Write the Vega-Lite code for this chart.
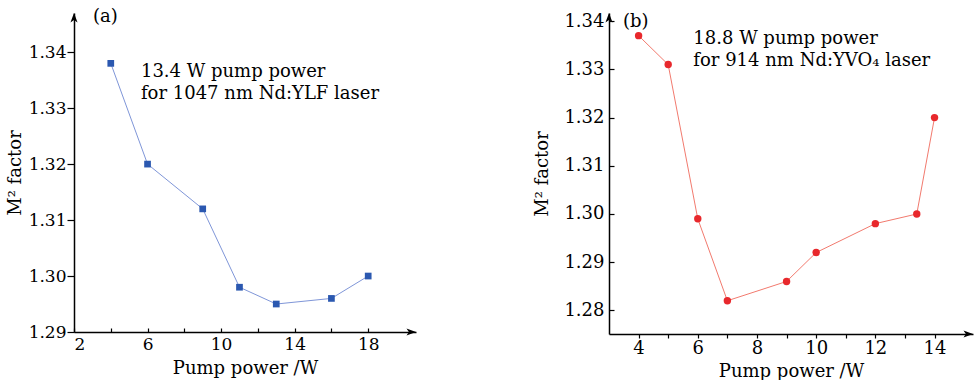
{
  "$schema": "https://vega.github.io/schema/vega-lite/v6.json",
  "background": "white",
  "padding": {"left": 6, "top": 8, "right": 2, "bottom": 0},
  "spacing": 117,
  "datasets": {
    "a": [
      {"power": 4, "m2": 1.338},
      {"power": 6, "m2": 1.320},
      {"power": 9, "m2": 1.312},
      {"power": 11, "m2": 1.298},
      {"power": 13, "m2": 1.295},
      {"power": 16, "m2": 1.296},
      {"power": 18, "m2": 1.300}
    ],
    "b": [
      {"power": 4, "m2": 1.337},
      {"power": 5, "m2": 1.331},
      {"power": 6, "m2": 1.299},
      {"power": 7, "m2": 1.282},
      {"power": 9, "m2": 1.286},
      {"power": 10, "m2": 1.292},
      {"power": 12, "m2": 1.298},
      {"power": 13.4, "m2": 1.300},
      {"power": 14, "m2": 1.320}
    ]
  },
  "config": {
    "font": "DejaVu Serif",
    "view": {"stroke": null},
    "axis": {
      "grid": false,
      "domainColor": "black",
      "domainWidth": 1.5,
      "tickColor": "black",
      "tickWidth": 1.2,
      "labelColor": "black",
      "titleColor": "black",
      "labelFont": "DejaVu Serif",
      "titleFont": "DejaVu Serif",
      "labelFontSize": 17,
      "titleFontSize": 18,
      "titleFontWeight": "normal"
    }
  },
  "hconcat": [
    {
      "width": 342,
      "height": 319,
      "data": {"name": "a"},
      "encoding": {
        "x": {
          "field": "power", "type": "quantitative",
          "scale": {"domain": [2, 20.6], "nice": false, "zero": false},
          "axis": {"values": [2, 4, 6, 8, 10, 12, 14, 16, 18], "labelExpr": "datum.value % 4 == 2 ? datum.label : ''", "tickSize": -4, "labelPadding": 8, "title": "Pump power /W", "titlePadding": 7, "labelFontSize": 17}
        },
        "y": {
          "field": "m2", "type": "quantitative",
          "scale": {"domain": [1.29, 1.347], "nice": false, "zero": false},
          "axis": {"values": [1.29, 1.30, 1.31, 1.32, 1.33, 1.34], "format": ".2f", "tickSize": 7, "labelPadding": 1, "title": "M² factor", "labelFontSize": 17}
        }
      },
      "layer": [
        {"mark": {"type": "line", "color": "#7f96d8", "strokeWidth": 1}},
        {"mark": {"type": "point", "shape": "square", "filled": true, "opacity": 1, "color": "#2b58b0", "size": 45}},
        {
          "transform": [{"filter": "datum.power == 4"}],
          "mark": {"type": "point", "shape": "M0,0 L-2,-0.75 L-1.5,0 L-2,0.75 Z", "filled": true, "opacity": 1, "color": "black", "size": 90},
          "encoding": {"x": {"datum": 20.6}, "y": {"datum": 1.29}}
        },
        {
          "transform": [{"filter": "datum.power == 4"}],
          "mark": {"type": "point", "shape": "M0,0 L-0.75,2 L0,1.5 L0.75,2 Z", "filled": true, "opacity": 1, "color": "black", "size": 90},
          "encoding": {"x": {"datum": 2}, "y": {"datum": 1.347}}
        },
        {
          "transform": [{"filter": "datum.power == 4"}],
          "mark": {"type": "text", "text": "(a)", "align": "left", "baseline": "middle", "fontSize": 18, "fill": "black"},
          "encoding": {"x": {"datum": 3.03}, "y": {"datum": 1.3462}}
        },
        {
          "transform": [{"filter": "datum.power == 4"}],
          "mark": {"type": "text", "text": ["13.4 W pump power", "for 1047 nm Nd:YLF laser"], "align": "left", "baseline": "alphabetic", "fontSize": 18, "lineHeight": 22, "fill": "black"},
          "encoding": {"x": {"datum": 5.64}, "y": {"datum": 1.3356}}
        }
      ]
    },
    {
      "width": 364,
      "height": 321,
      "data": {"name": "b"},
      "encoding": {
        "x": {
          "field": "power", "type": "quantitative",
          "scale": {"domain": [3, 15.3], "nice": false, "zero": false},
          "axis": {"values": [4, 5, 6, 7, 8, 9, 10, 11, 12, 13, 14], "labelExpr": "datum.value % 2 == 0 ? datum.label : ''", "tickSize": 4, "labelPadding": 1, "title": "Pump power /W", "titlePadding": 5, "labelFontSize": 18}
        },
        "y": {
          "field": "m2", "type": "quantitative",
          "scale": {"domain": [1.2751, 1.3417], "nice": false, "zero": false},
          "axis": {"values": [1.28, 1.29, 1.30, 1.31, 1.32, 1.33, 1.34], "format": ".2f", "tickSize": -5, "labelPadding": 10, "title": "M² factor", "titlePadding": 12, "labelFontSize": 18}
        }
      },
      "layer": [
        {"mark": {"type": "line", "color": "#f27a6e", "strokeWidth": 1}},
        {"mark": {"type": "point", "shape": "circle", "filled": true, "opacity": 1, "color": "#e8282c", "size": 55}},
        {
          "transform": [{"filter": "datum.power == 4"}],
          "mark": {"type": "point", "shape": "M0,0 L-2,-0.75 L-1.5,0 L-2,0.75 Z", "filled": true, "opacity": 1, "color": "black", "size": 90},
          "encoding": {"x": {"datum": 15.3}, "y": {"datum": 1.2751}}
        },
        {
          "transform": [{"filter": "datum.power == 4"}],
          "mark": {"type": "point", "shape": "M0,0 L-0.75,2 L0,1.5 L0.75,2 Z", "filled": true, "opacity": 1, "color": "black", "size": 90},
          "encoding": {"x": {"datum": 3}, "y": {"datum": 1.3417}}
        },
        {
          "transform": [{"filter": "datum.power == 4"}],
          "mark": {"type": "text", "text": "(b)", "align": "left", "baseline": "middle", "fontSize": 18, "fill": "black"},
          "encoding": {"x": {"datum": 3.47}, "y": {"datum": 1.3399}}
        },
        {
          "transform": [{"filter": "datum.power == 4"}],
          "mark": {"type": "text", "text": ["18.8 W pump power", "for 914 nm Nd:YVO₄ laser"], "align": "left", "baseline": "alphabetic", "fontSize": 18, "lineHeight": 22, "fill": "black"},
          "encoding": {"x": {"datum": 5.85}, "y": {"datum": 1.33535}}
        }
      ]
    }
  ]
}
